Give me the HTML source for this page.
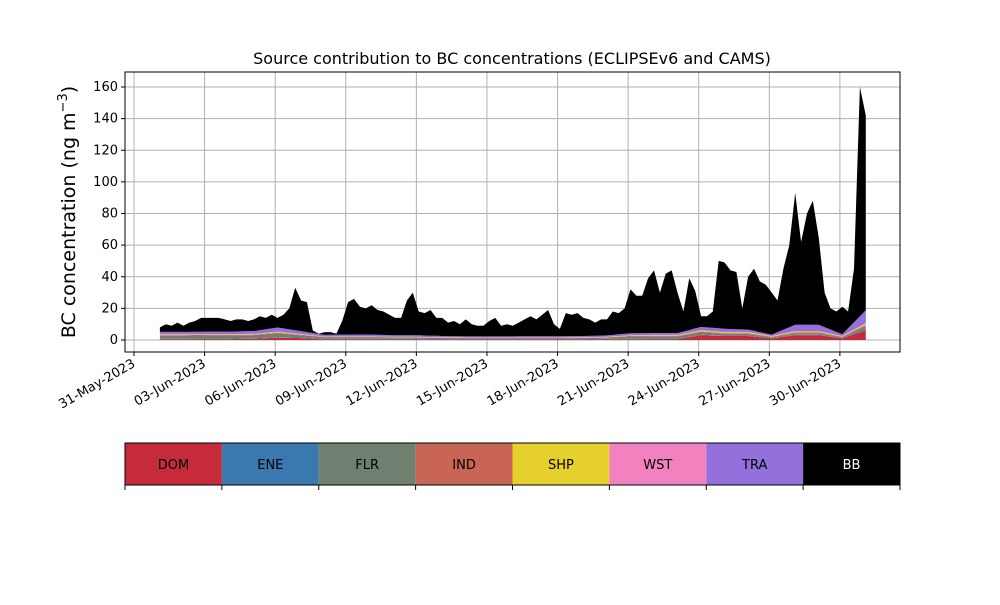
<!DOCTYPE html>
<html><head><meta charset="utf-8"><style>
body{margin:0;background:#fff;font-family:"Liberation Sans","DejaVu Sans",sans-serif}
svg text{font-family:"DejaVu Sans","Liberation Sans",sans-serif}
</style></head><body>
<svg id="c" width="1000" height="600" xmlns="http://www.w3.org/2000/svg"></svg>
<script>
// 6-hourly total BB concentration (stack top), starting 01-Jun ~03:00
const total=[8,10,9,11, 9,11,12,14, 14,14,14,13, 12,13,13,12, 13,15,14,16, 14,16,20,33,
 25,24,6,4, 5,5,4,12, 24,26,21,20, 22,19,18,16, 14,14,25,30, 18,17,19,14, 14,11,12,10,
 13,10,9,9, 12,14,9,10, 9,11,13,15, 13,16,19,10, 7,17,16,17, 14,13,11,13, 13,18,17,20,
 32,28,28,39, 44,30,42,44, 30,18,39,31, 15,15,18,50, 49,44,43,20, 40,45,37,35,
 30,25,45,60, 93,62,80,88, 65,30,20,18, 21,18,45,160, 142];
// daily minor sources
const dom=[0.5,0.5,0.6,0.6,0.8,1.5,1.2,0.4,0.5,0.5,0.4,0.4,0.3,0.3,0.3,0.3,0.3,0.3,0.3,0.4,0.5,0.6,0.6,3,2.5,2.5,1,3,3,1,6];
const ene=[0.3,0.3,0.3,0.3,0.3,0.3,0.3,0.3,0.3,0.3,0.3,0.3,0.3,0.3,0.3,0.3,0.3,0.3,0.3,0.3,0.3,0.3,0.3,0.3,0.3,0.3,0.3,0.3,0.3,0.3,0.5];
const flr=[2,2,2,2,2,2.5,1.5,1,1,1,0.8,0.8,0.6,0.5,0.5,0.5,0.5,0.5,0.6,0.8,1.5,1.5,1.5,1.5,1,1,0.5,1,1,0.5,2];
const ind=[0.3,0.3,0.3,0.3,0.3,0.4,0.3,0.2,0.2,0.2,0.2,0.2,0.2,0.2,0.2,0.2,0.2,0.2,0.2,0.2,0.3,0.3,0.3,0.6,0.5,0.5,0.3,0.6,0.6,0.3,1];
const shp=[0.3,0.3,0.3,0.3,0.3,0.4,0.3,0.2,0.2,0.2,0.2,0.2,0.2,0.2,0.2,0.2,0.2,0.2,0.2,0.2,0.3,0.3,0.3,0.6,0.5,0.5,0.3,0.5,0.5,0.3,0.8];
const wst=[0.2,0.2,0.2,0.2,0.2,0.3,0.2,0.1,0.1,0.1,0.1,0.1,0.1,0.1,0.1,0.1,0.1,0.1,0.1,0.1,0.2,0.2,0.2,0.3,0.3,0.3,0.2,0.3,0.3,0.2,0.5];
const tra=[1.5,1.5,1.6,1.6,1.8,2.5,1.8,1,1.2,1.2,1,1,0.8,0.7,0.7,0.7,0.8,0.8,0.8,0.9,1.2,1.2,1.2,2,2,1.5,0.8,4,4,1,8];
const yTicks=[0,20,40,60,80,100,120,140,160];
const xTickLabels=["31-May-2023","03-Jun-2023","06-Jun-2023","09-Jun-2023","12-Jun-2023","15-Jun-2023","18-Jun-2023","21-Jun-2023","24-Jun-2023","27-Jun-2023","30-Jun-2023"];
const xTickDays=[0,3,6,9,12,15,18,21,24,27,30];
const names=["DOM","ENE","FLR","IND","SHP","WST","TRA","BB"];
const colors=["#c62b3a","#3a78b0","#6f8070","#c96555","#e5d02e","#f281bf","#9370db","#000000"];

const NS="http://www.w3.org/2000/svg",svg=document.getElementById('c');
function el(t,a,p){const e=document.createElementNS(NS,t);for(const k in a)e.setAttribute(k,a[k]);(p||svg).appendChild(e);return e;}
const L=125,R=900,T=72,B=352;
const X=d=>134+d*23.53, Y=v=>340-v*1.58125;
yTicks.forEach(v=>{const g=el('line',{x1:L,x2:R,y1:Y(v),y2:Y(v),stroke:'#b0b0b0','stroke-width':1});

el('line',{x1:L-4,x2:L,y1:Y(v),y2:Y(v),stroke:'#000'});
const tx=el('text',{x:L-7,y:Y(v)+4,'text-anchor':'end','font-size':13});tx.textContent=v;
});
xTickDays.forEach((d,i)=>{const g=el('line',{x1:X(d),x2:X(d),y1:T,y2:B,stroke:'#b0b0b0'});

el('line',{x1:X(d),x2:X(d),y1:B,y2:B+4,stroke:'#000'});
const tx=el('text',{x:X(d)+2,y:B+14,'text-anchor':'end','font-size':13,transform:`rotate(-30 ${X(d)+2} ${B+14})`});
tx.textContent=xTickLabels[i];});
const n=total.length,series=[dom,ene,flr,ind,shp,wst,tra];
let base=new Array(n).fill(0);
function daily(s,i){const d=i/4, a=Math.min(30,Math.floor(d)), b=Math.min(30,a+1), f=d-a; return s[a]*(1-f)+s[b]*f;}
const layers=series.map(s=>total.map((_,i)=>daily(s,i)));
layers.push(total.map((t,i)=>Math.max(0,t-layers.reduce((a,l)=>a+l[i],0))));
const xs=total.map((_,i)=>X(1.1+i*0.25));
layers.forEach((lay,k)=>{const top=base.map((b,i)=>b+lay[i]);
let d='M'+xs.map((x,i)=>x.toFixed(1)+','+Y(top[i]).toFixed(1)).join('L');
for(let i=n-1;i>=0;i--)d+='L'+xs[i].toFixed(1)+','+Y(base[i]).toFixed(1);
const p=el('path',{d:d+'Z',fill:colors[k],stroke:'none'});

base=top;});
const fr=el('rect',{x:L,y:T,width:R-L,height:B-T,fill:'none',stroke:'#000'});

const ti=el('text',{x:512,y:64,'text-anchor':'middle','font-size':16});ti.textContent='Source contribution to BC concentrations (ECLIPSEv6 and CAMS)';

const yl=el('text',{x:0,y:0,'text-anchor':'middle','font-size':19,transform:'translate(75,212) rotate(-90)'});
yl.innerHTML='BC concentration (ng m<tspan font-size="13" dy="-8">−3</tspan><tspan dy="8">)</tspan>';

const w=(R-L)/8;
names.forEach((nm,k)=>{const r=el('rect',{x:L+k*w,y:443,width:w,height:42,fill:colors[k]});

const t=el('text',{x:L+k*w+w/2,y:469,'text-anchor':'middle','font-size':13,fill:nm==='BB'?'#fff':'#000'});t.textContent=nm;
});
for(let k=0;k<=8;k++)el('line',{x1:L+k*w,x2:L+k*w,y1:485,y2:490,stroke:'#000'});
const lb=el('rect',{x:L,y:443,width:R-L,height:42,fill:'none',stroke:'#000'});

</script>
</body></html>
